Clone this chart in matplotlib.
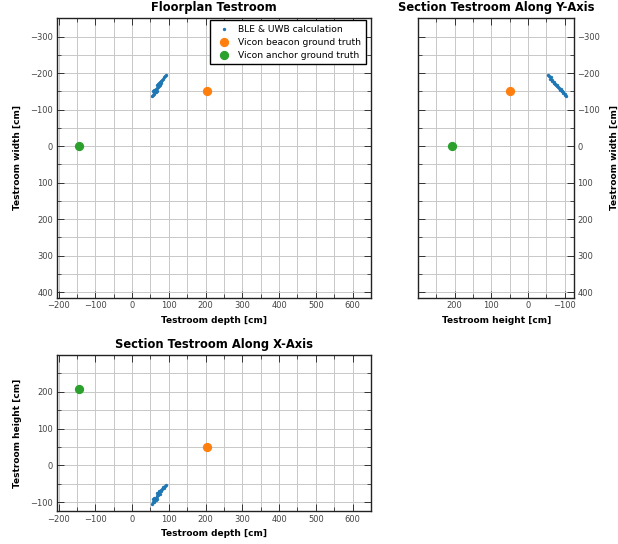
import matplotlib
matplotlib.use("Agg")
import matplotlib.pyplot as plt
from matplotlib.ticker import MultipleLocator

# estimated positions from BLE & UWB (cm), three streaks
calc_depth = [67, 70, 72, 75, 78, 81, 84, 86, 89, 92,
              58, 61, 64, 67, 70, 73, 76, 80,
              55, 57, 59, 61, 64, 67]
calc_width = [-167, -170, -173, -176, -179, -182, -185, -188, -191, -194,
              -150, -153, -156, -159, -162, -165, -168, -174,
              -137, -139, -142, -145, -148, -151]
calc_height = [-76, -74, -70, -71, -66, -64, -60, -61, -56, -53,
               -92, -88, -89, -84, -82, -78, -79, -71,
               -104, -100, -101, -96, -94, -91]

# vicon ground truth
beacon_depth, beacon_width, beacon_height = 205, -150, 50
anchor_depth, anchor_width, anchor_height = -143, 0, 207

C_CALC = "tab:blue"
C_BEACON = "tab:orange"
C_ANCHOR = "tab:green"

TITLE_FS = 8.3
LABEL_FS = 6.5
TICK_FS = 6


def style_axes(ax):
    ax.xaxis.set_major_locator(MultipleLocator(100))
    ax.xaxis.set_minor_locator(MultipleLocator(50))
    ax.yaxis.set_major_locator(MultipleLocator(100))
    ax.yaxis.set_minor_locator(MultipleLocator(50))
    ax.grid(True, which="both", color="#c8c8c8", linewidth=0.7)
    ax.set_axisbelow(True)
    ax.tick_params(which="both", direction="in", top=True, right=True,
                   labelsize=TICK_FS, labelcolor="#444444", color="#333333")
    ax.tick_params(which="major", length=5, width=0.7, pad=2.5)
    ax.tick_params(which="minor", length=3, width=0.6)
    for s in ax.spines.values():
        s.set_linewidth(1.0)
        s.set_color("#222222")


fig = plt.figure(figsize=(6.18, 5.44), dpi=100)

# floorplan
ax1 = fig.add_axes([0.0917, 0.4528, 0.5086, 0.5136])
ax1.scatter(calc_depth, calc_width, s=2, color=C_CALC, label="BLE & UWB calculation", zorder=3)
ax1.scatter([beacon_depth], [beacon_width], s=32, color=C_BEACON, label="Vicon beacon ground truth", zorder=3)
ax1.scatter([anchor_depth], [anchor_width], s=32, color=C_ANCHOR, label="Vicon anchor ground truth", zorder=3)
ax1.set_xlim(-205, 650)
ax1.set_ylim(415, -350)
style_axes(ax1)
ax1.set_title("Floorplan Testroom", fontsize=TITLE_FS, fontweight="bold", pad=5)
ax1.set_xlabel("Testroom depth [cm]", fontsize=LABEL_FS, fontweight="bold", labelpad=4)
ax1.set_ylabel("Testroom width [cm]", fontsize=LABEL_FS, fontweight="bold", labelpad=6)
leg = ax1.legend(loc="upper right", bbox_to_anchor=(0.984, 0.994), borderaxespad=0,
                 fontsize=6.6, fancybox=False, framealpha=1, edgecolor="black",
                 handletextpad=0.6, labelspacing=0.45, borderpad=0.5)
leg.get_frame().set_linewidth(1.0)

# section along y axis
ax2 = fig.add_axes([0.6769, 0.4528, 0.2519, 0.5136])
ax2.scatter(calc_height, calc_width, s=2, color=C_CALC, zorder=3)
ax2.scatter([beacon_height], [beacon_width], s=32, color=C_BEACON, zorder=3)
ax2.scatter([anchor_height], [anchor_width], s=32, color=C_ANCHOR, zorder=3)
ax2.set_xlim(299, -125)
ax2.set_ylim(415, -350)
style_axes(ax2)
ax2.yaxis.tick_right()
ax2.tick_params(which="both", left=True, right=True, labelleft=False, labelright=True)
ax2.yaxis.set_label_position("right")
ax2.set_title("Section Testroom Along Y-Axis", fontsize=TITLE_FS, fontweight="bold", pad=5)
ax2.set_xlabel("Testroom height [cm]", fontsize=LABEL_FS, fontweight="bold", labelpad=4)
ax2.set_ylabel("Testroom width [cm]", fontsize=LABEL_FS, fontweight="bold", labelpad=7)

# section along x axis
ax3 = fig.add_axes([0.0917, 0.0601, 0.5086, 0.2868])
ax3.scatter(calc_depth, calc_height, s=2, color=C_CALC, zorder=3)
ax3.scatter([beacon_depth], [beacon_height], s=32, color=C_BEACON, zorder=3)
ax3.scatter([anchor_depth], [anchor_height], s=32, color=C_ANCHOR, zorder=3)
ax3.set_xlim(-205, 650)
ax3.set_ylim(-125, 299)
style_axes(ax3)
ax3.set_title("Section Testroom Along X-Axis", fontsize=TITLE_FS, fontweight="bold", pad=5)
ax3.set_xlabel("Testroom depth [cm]", fontsize=LABEL_FS, fontweight="bold", labelpad=4)
ax3.set_ylabel("Testroom height [cm]", fontsize=LABEL_FS, fontweight="bold", labelpad=6)

fig.savefig("out.png", dpi=100)
